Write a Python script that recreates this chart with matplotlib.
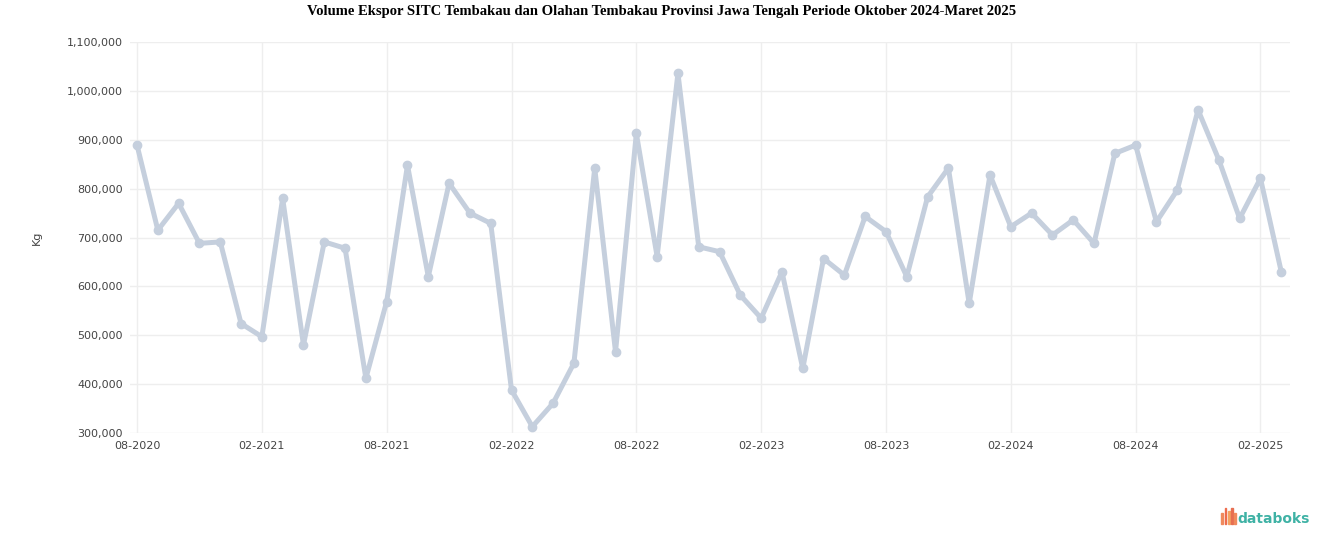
import matplotlib.pyplot as plt
from matplotlib.patches import Rectangle

# monthly export volume, Aug 2020 - Mar 2025
volume = [
    889, 715, 770, 688, 691, 524, 497, 780, 480, 691,
    678, 412, 569, 848, 620, 811, 750, 729, 388, 313,
    361, 443, 842, 466, 913, 661, 1036, 681, 671, 582,
    535, 630, 432, 657, 623, 743, 712, 620, 783, 842,
    565, 828, 722, 750, 705, 736, 688, 872, 889, 732,
    797, 961, 859, 739, 821, 630,
]
volume = [v * 1000 for v in volume]
tick_labels = ["08-2020", "02-2021", "08-2021", "02-2022", "08-2022",
               "02-2023", "08-2023", "02-2024", "08-2024", "02-2025"]
y_ticks = [300000, 400000, 500000, 600000, 700000, 800000, 900000, 1000000, 1100000]
y_labels = ["300,000", "400,000", "500,000", "600,000", "700,000",
            "800,000", "900,000", "1,000,000", "1,100,000"]

fig = plt.figure(figsize=(13.24, 5.47), dpi=100)
ax = fig.add_axes([0.098, 0.2084, 0.876, 0.7148])

x = list(range(len(volume)))
ax.plot(x, volume, "-o", color="#c5cfdd", lw=3.6, ms=6, mec="#c5cfdd", zorder=3)

ax.set_xlim(-0.35, 55.4)
ax.set_ylim(300000, 1100000)
ax.set_xticks(x[::6])
ax.set_xticklabels(tick_labels)
ax.set_yticks(y_ticks)
ax.set_yticklabels(y_labels)
ax.tick_params(length=0, labelsize=8, labelcolor="#444444", pad=6)
ax.tick_params(axis="y", pad=5)
ax.grid(True, color="#eeeeee", lw=1)
for s in ax.spines.values():
    s.set_visible(False)
ax.set_ylabel("Kg", fontsize=8, color="#444444", labelpad=18)

fig.suptitle("Volume Ekspor SITC Tembakau dan Olahan Tembakau Provinsi Jawa Tengah Periode Oktober 2024-Maret 2025",
             y=0.99, fontsize=10.5, fontweight="bold", family="Liberation Serif")

# databoks logo
for i, (h, c) in enumerate([(0.020, "#f08a5d"), (0.030, "#ee6c4d"), (0.024, "#f4a261"), (0.030, "#e76f51"), (0.020, "#f08a5d")]):
    fig.add_artist(Rectangle((0.9225 + i * 0.0024, 0.042), 0.0014, h, color=c, transform=fig.transFigure))
fig.text(0.989, 0.052, "databoks", ha="right", va="center", fontsize=10,
         color="#3fb2a5", fontweight="bold")

fig.savefig("out.png", dpi=100, facecolor="white")
